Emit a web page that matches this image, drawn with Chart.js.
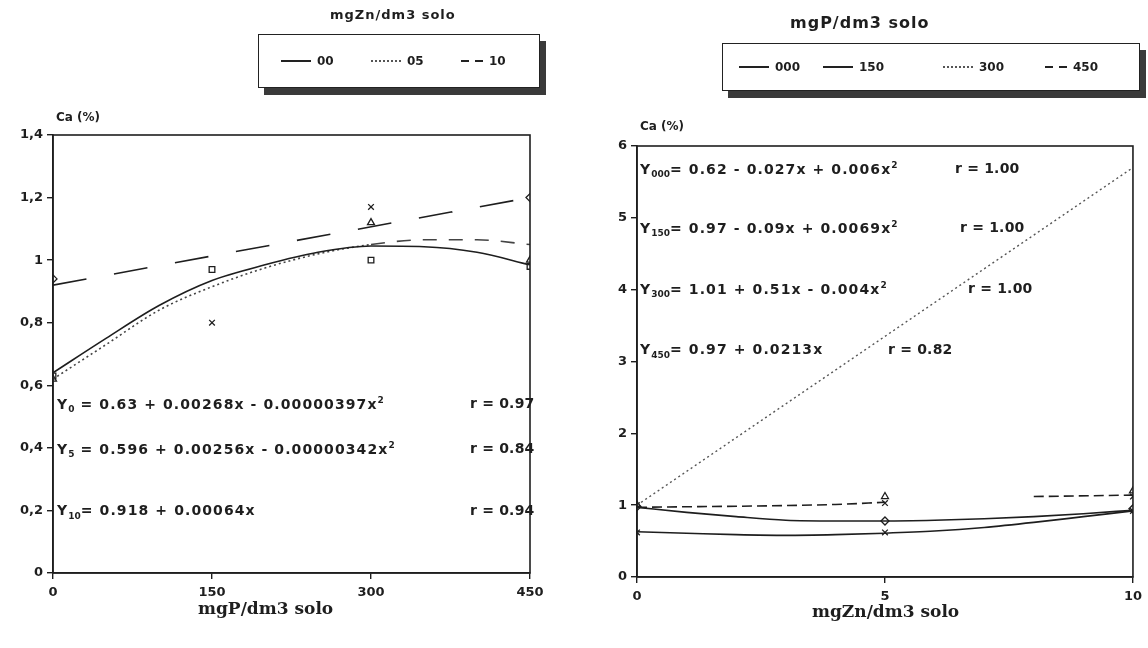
<!DOCTYPE html>
<html>
<head>
<meta charset="utf-8">
<script src="https://cdn.jsdelivr.net/npm/chart.js@4.4.1/dist/chart.umd.min.js"></script>
<style>
    body { margin: 0; background: #fff; }
    #wrap { position: relative; width: 1148px; height: 648px; overflow: hidden; font-family: "DejaVu Sans", sans-serif; color: #1e1e1e; }
    .chartbox { position: absolute; top: 0; width: 574px; height: 648px; }
    .txt { position: absolute; white-space: nowrap; font-weight: bold; font-size: 13px; }
    .eq { font-size: 14px; letter-spacing: 1.1px; }
    .eq.r { letter-spacing: 0.2px; }
    .eq sub { font-size: 9px; letter-spacing: 0; }
    .eq sup { font-size: 9px; letter-spacing: 0; }
    .legend { position: absolute; border: 1.5px solid #222; background: #fff; box-shadow: 6px 7px 0 #3a3a3a; }
    .item { position: absolute; top: 50%; transform: translateY(-50%); font-weight: bold; font-size: 12px; display: flex; align-items: center; }
    .item i { display: inline-block; width: 30px; margin-right: 6px; border-top: 2px solid #222; }
    .item i.dot { border-top: 2px dotted #555; }
    .item i.dash { width: 22px; border-top: none; height: 2px; background: linear-gradient(to right, #222 0 8px, transparent 8px 14px, #222 14px 22px); }
    .axtitle { position: absolute; font-family: "DejaVu Serif", serif; font-weight: bold; font-size: 17px; white-space: nowrap; }
</style>
</head>
<body>
<div id="wrap">
    <div class="chartbox" style="left:0"><canvas id="caPChart"></canvas></div>
    <div class="chartbox" style="left:574px"><canvas id="caZnChart"></canvas></div>

    <!-- legends -->
    <div class="txt" style="left:330px;top:7px;font-size:13px;letter-spacing:1px">mgZn/dm3 solo</div>
    <div class="legend" style="left:258px;top:34px;width:280px;height:52px">
        <div class="item" style="left:22px"><i></i>00</div>
        <div class="item" style="left:112px"><i class="dot"></i>05</div>
        <div class="item" style="left:202px"><i class="dash"></i>10</div>
    </div>

    <div class="txt" style="left:790px;top:13px;font-size:16px;letter-spacing:1px">mgP/dm3 solo</div>
    <div class="legend" style="left:722px;top:43px;width:416px;height:46px">
        <div class="item" style="left:16px"><i></i>000</div>
        <div class="item" style="left:100px"><i></i>150</div>
        <div class="item" style="left:220px"><i class="dot"></i>300</div>
        <div class="item" style="left:322px"><i class="dash"></i>450</div>
    </div>

    <!-- axis titles -->
    <div class="txt" style="left:56px;top:110px;font-size:12px">Ca (%)</div>
    <div class="txt" style="left:640px;top:119px;font-size:12px">Ca (%)</div>
    <div class="axtitle" style="left:198px;top:598px">mgP/dm3 solo</div>
    <div class="axtitle" style="left:812px;top:601px">mgZn/dm3 solo</div>

    <!-- regression equations -->
    <div class="txt eq" style="left:57px;top:395px">Y<sub>0</sub> = 0.63 + 0.00268x - 0.00000397x<sup>2</sup></div>
    <div class="txt eq r" style="left:470px;top:395px">r = 0.97</div>
    <div class="txt eq" style="left:57px;top:440px">Y<sub>5</sub> = 0.596 + 0.00256x - 0.00000342x<sup>2</sup></div>
    <div class="txt eq r" style="left:470px;top:440px">r = 0.84</div>
    <div class="txt eq" style="left:57px;top:502px">Y<sub>10</sub>= 0.918 + 0.00064x</div>
    <div class="txt eq r" style="left:470px;top:502px">r = 0.94</div>

    <div class="txt eq" style="left:640px;top:160px">Y<sub>000</sub>= 0.62 - 0.027x + 0.006x<sup>2</sup></div>
    <div class="txt eq r" style="left:955px;top:160px">r = 1.00</div>
    <div class="txt eq" style="left:640px;top:219px">Y<sub>150</sub>= 0.97 - 0.09x + 0.0069x<sup>2</sup></div>
    <div class="txt eq r" style="left:960px;top:219px">r = 1.00</div>
    <div class="txt eq" style="left:640px;top:280px">Y<sub>300</sub>= 1.01 + 0.51x - 0.004x<sup>2</sup></div>
    <div class="txt eq r" style="left:968px;top:280px">r = 1.00</div>
    <div class="txt eq" style="left:640px;top:341px">Y<sub>450</sub>= 0.97 + 0.0213x</div>
    <div class="txt eq r" style="left:888px;top:341px">r = 0.82</div>
</div>

<script>
// ---- left chart: Ca (%) vs mgP/dm3, one line per Zn level ----
const pTicks = [0, 150, 300, 450];
const caTicksLeft = [0, 0.2, 0.4, 0.6, 0.8, 1, 1.2, 1.4];
const caLabelsLeft = ["0", "0,2", "0,4", "0,6", "0,8", "1", "1,2", "1,4"];

const pCurveX = [0, 50, 100, 150, 200, 250, 300, 350, 400, 450];
const zn00Curve = [0.64, 0.75, 0.855, 0.935, 0.985, 1.025, 1.045, 1.043, 1.025, 0.985];
const zn05Curve = [0.62, 0.73, 0.84, 0.915, 0.975, 1.02, 1.05, 1.065, 1.065, 1.05];
const zn10LineX = [0, 450];
const zn10Line = [0.92, 1.2];

const pPoints = [0, 150, 300, 450];
const zn00Points = [0.63, 0.97, 1.0, 0.98];
const zn05Points = [0.62, null, 1.12, 1.0];
const zn10Points = [0.94, 0.8, 1.17, 1.2];

// ---- right chart: Ca (%) vs mgZn/dm3, one line per P level ----
const znTicks = [0, 5, 10];
const caTicksRight = [0, 1, 2, 3, 4, 5, 6];

const znCurveX = [0, 1, 2, 3, 4, 5, 6, 7, 8, 9, 10];
const p000Curve = [0.63, 0.61, 0.59, 0.58, 0.59, 0.61, 0.64, 0.69, 0.76, 0.84, 0.92];
const p150Curve = [0.97, 0.9, 0.84, 0.79, 0.78, 0.78, 0.79, 0.81, 0.84, 0.88, 0.93];
const p300LineX = [0, 10];
const p300Line = [1.0, 5.7];
const p450LineX = [0, 4, 5, 6, 8, 10];
const p450Line = [0.97, 1.01, 1.04, null, 1.12, 1.14];

const znPoints = [0, 5, 10];
const p000Points = [0.62, 0.62, 0.92];
const p150Points = [0.98, 0.78, 0.95];
const p300Points = [1.0, 1.12, 1.2];
const p450Points = [1.0, 1.03, 1.12];

const ink = "#1e1e1e";

function xy(xs, ys) {
    return xs.map((x, i) => ({ x: x, y: ys[i] }));
}

function curve(xs, ys, dash, extra) {
    return Object.assign({
        data: xy(xs, ys),
        showLine: true,
        borderColor: ink,
        borderWidth: 1.6,
        borderDash: dash,
        pointRadius: 0,
        cubicInterpolationMode: "monotone",
        spanGaps: false
    }, extra || {});
}

function markers(xs, ys, style) {
    return {
        data: xy(xs, ys),
        showLine: false,
        pointStyle: style,
        pointRadius: 4,
        borderColor: ink,
        borderWidth: 1.3,
        backgroundColor: "rgba(0,0,0,0)"
    };
}

// box around the plot area
const frame = {
    id: "frame",
    afterDraw(chart) {
        const a = chart.chartArea;
        const ctx = chart.ctx;
        ctx.save();
        ctx.strokeStyle = ink;
        ctx.lineWidth = 1.6;
        ctx.strokeRect(a.left, a.top, a.right - a.left, a.bottom - a.top);
        ctx.restore();
    }
};

function axes(xTicks, xMax, yTicks, yMax, yLabels) {
    const tickFont = { family: "DejaVu Sans", size: 13, weight: "bold" };
    return {
        x: {
            type: "linear", min: 0, max: xMax,
            afterBuildTicks: s => { s.ticks = xTicks.map(v => ({ value: v })); },
            afterFit: s => { s.height = 30; },
            ticks: { color: ink, font: tickFont, padding: 6, maxRotation: 0 },
            grid: { drawOnChartArea: false, color: ink, tickLength: 6, lineWidth: 1.4 },
            border: { color: ink, width: 1.6 }
        },
        y: {
            type: "linear", min: 0, max: yMax,
            afterBuildTicks: s => { s.ticks = yTicks.map(v => ({ value: v })); },
            afterFit: s => { s.width = 40; },
            ticks: {
                color: ink, font: tickFont, padding: 4,
                callback: (v, i) => yLabels ? yLabels[i] : String(v)
            },
            grid: { drawOnChartArea: false, color: ink, tickLength: 6, lineWidth: 1.4 },
            border: { color: ink, width: 1.6 }
        }
    };
}

const common = {
    responsive: true,
    maintainAspectRatio: false,
    animation: false,
    plugins: { legend: { display: false }, tooltip: { enabled: false } }
};

new Chart(document.getElementById("caPChart"), {
    type: "scatter",
    data: {
        datasets: [
            curve(pCurveX, zn00Curve, []),
            curve(pCurveX, zn05Curve, [2, 3], {
                borderColor: "#444",
                segment: { borderDash: c => c.p0.parsed.x >= 300 ? [14, 12] : [2, 3] }
            }),
            curve(zn10LineX, zn10Line, [34, 28]),
            markers(pPoints, zn00Points, "rect"),
            markers(pPoints, zn05Points, "triangle"),
            Object.assign(markers(pPoints, zn10Points, "crossRot"), {
                pointStyle: ["rectRot", "crossRot", "crossRot", "rectRot"]
            })
        ]
    },
    options: Object.assign({}, common, {
        layout: { padding: { left: 13, right: 44, top: 135, bottom: 45 } },
        scales: axes(pTicks, 450, caTicksLeft, 1.4, caLabelsLeft)
    }),
    plugins: [frame]
});

new Chart(document.getElementById("caZnChart"), {
    type: "scatter",
    data: {
        datasets: [
            curve(znCurveX, p000Curve, []),
            curve(znCurveX, p150Curve, []),
            curve(p300LineX, p300Line, [2, 3], { borderColor: "#555", borderWidth: 1.4 }),
            curve(p450LineX, p450Line, [10, 5]),
            markers(znPoints, p000Points, "crossRot"),
            markers(znPoints, p150Points, "rectRot"),
            markers(znPoints, p300Points, "triangle"),
            markers(znPoints, p450Points, "crossRot")
        ]
    },
    options: Object.assign({}, common, {
        layout: { padding: { left: 23, right: 11, top: 146, bottom: 41 } },
        scales: axes(znTicks, 10, caTicksRight, 6, null)
    }),
    plugins: [frame]
});
</script>
</body>
</html>
